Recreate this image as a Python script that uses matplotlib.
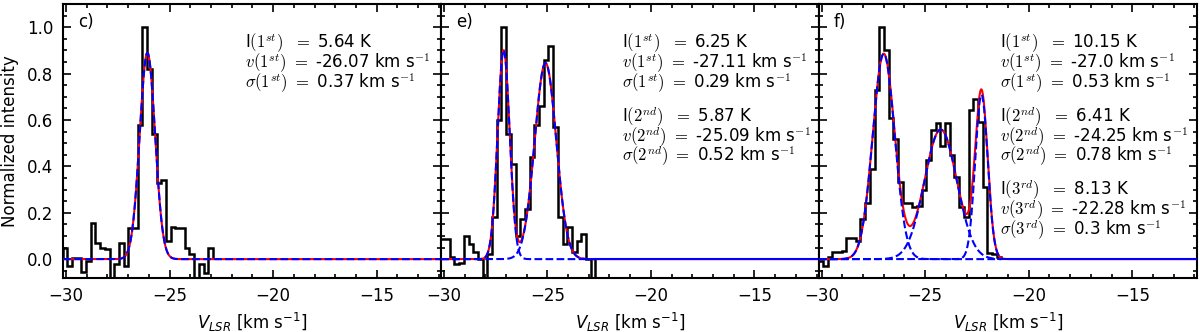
import numpy as np
import matplotlib
matplotlib.use('Agg')
import matplotlib.pyplot as plt
from matplotlib.ticker import MultipleLocator

plt.rcParams['font.family'] = 'DejaVu Sans'
plt.rcParams['mathtext.fontset'] = 'cm'
plt.rcParams['font.size'] = 12

# channel grid shared by the three spectra (km/s)
chan0 = -29.94      # left edge of channel k = 0
dchan = 0.227       # channel width
first_chan = -1     # every spectrum starts at channel k = -1

# normalized spectra, one value per channel
spec_c = [0.046, -0.03, 0.003, 0.006, -0.055, -0.007, 0.156, 0.07, 0.046, 0.042,
          -0.1, -0.02, 0.07, -0.03, 0.136, 0.136, 0.577, 1.0, 0.82, 0.54,
          0.33, 0.34, 0.08, 0.14, 0.136, 0.136, 0.046, 0.024, -0.1, -0.02,
          -0.06, 0.05]
spec_e = [0.085, 0.085, 0.01, -0.02, -0.015, 0.1, 0.067, 0.03, 0.0, -0.1,
          0.02, 0.18, 0.6, 1.0, 0.54, 0.41, 0.10, 0.175, 0.215, 0.44,
          0.58, 0.66, 0.857, 0.92, 0.57, 0.18, 0.065, 0.14, 0.03, 0.08,
          0.11, 0.0, -0.1]
spec_f = [-0.01, -0.03, 0.01, 0.03, 0.03, 0.035, 0.093, 0.093, 0.08, 0.175,
          0.24, 0.39, 0.73, 1.0, 0.90, 0.61, 0.52, 0.333, 0.24, 0.24,
          0.225, 0.228, 0.30, 0.426, 0.558, 0.587, 0.486, 0.587, 0.448, 0.354,
          0.225, 0.18, 0.644, 0.69, 0.59, 0.31, 0.025, 0.02, 0.01]

# gaussian fit results: intensity (K), centroid, dispersion (km/s)
fit_I_c = [5.64]
fit_v_c = [-26.07]
fit_s_c = [0.37]
fit_I_e = [6.25, 5.87]
fit_v_e = [-27.11, -25.09]
fit_s_e = [0.29, 0.52]
fit_I_f = [10.15, 6.41, 8.13]
fit_v_f = [-27.0, -24.25, -22.28]
fit_s_f = [0.53, 0.78, 0.3]

# peak brightness used for the normalization (K)
tpeak = [6.34, 6.94, 11.47]

labels = ['c)', 'e)', 'f)']
ordinals = ['1^{st}', '2^{nd}', '3^{rd}']

panels = [(spec_c, fit_I_c, fit_v_c, fit_s_c),
          (spec_e, fit_I_e, fit_v_e, fit_s_e),
          (spec_f, fit_I_f, fit_v_f, fit_s_f)]

fig = plt.figure(figsize=(12, 3.32), dpi=100)
left, bottom, width, height = 0.05275, 0.1636, 0.31483, 0.8244
xlim = (-30.13, -11.89)
vgrid = np.linspace(xlim[0], xlim[1], 2000)

for i, (spec, I, v, s) in enumerate(panels):
    ax = fig.add_axes([left + i * width, bottom, width, height])
    edges = chan0 + dchan * np.arange(first_chan, first_chan + len(spec) + 1)
    ax.stairs(spec, edges, baseline=0, color='black', lw=1.8, zorder=2)

    comps = [Ii / tpeak[i] * np.exp(-0.5 * ((vgrid - vi) / si) ** 2)
             for Ii, vi, si in zip(I, v, s)]
    ax.plot(vgrid, np.sum(comps, axis=0), color='red', lw=1.5, zorder=3)
    for comp in comps:
        if len(comps) > 1:
            m = vgrid <= edges[-1]
            ax.plot(vgrid[m], comp[m], color='blue', lw=1.5, ls='--', zorder=4)
        else:
            ax.plot(vgrid, comp, color='blue', lw=1.5, ls='--', zorder=4)
    if len(comps) > 1:
        ax.plot([edges[-1], xlim[1]], [0, 0], color='blue', lw=1.5, zorder=5)

    ax.set_xlim(xlim)
    ax.set_ylim(-0.08, 1.1)
    ax.xaxis.set_major_locator(MultipleLocator(5))
    ax.xaxis.set_minor_locator(MultipleLocator(1))
    ax.yaxis.set_major_locator(MultipleLocator(0.2))
    ax.yaxis.set_minor_locator(MultipleLocator(0.05))
    ax.tick_params(which='both', direction='in', top=True, right=True, width=1.2)
    ax.tick_params(which='major', length=5.5, pad=7, labelsize=12)
    ax.tick_params(which='minor', length=3)
    for sp in ax.spines.values():
        sp.set_linewidth(1.5)
    if i == 0:
        ax.set_ylabel('Normalized intensity', fontsize=12, labelpad=6)
    else:
        ax.set_yticklabels([])
    ax.set_xlabel(r'$V_{LSR}$ [km s$^{-1}$]', fontsize=12, labelpad=4,
                  math_fontfamily='dejavusans')

    ax.text(0.04, 0.934, labels[i], transform=ax.transAxes, ha='left', va='center', fontsize=12)

    # fit parameters, one block of three lines per component
    y0 = 0.838
    for j in range(len(I)):
        o = ordinals[j]
        lines = [f'I$({o})$  $=$ {I[j]} K',
                 f'$v({o})$ $=$ {v[j]} km s$^{{-1}}$',
                 f'$\\sigma({o})$ $=$ {s[j]} km s$^{{-1}}$']
        for n, txt in enumerate(lines):
            ax.text(0.48, y0 - n * 0.073, txt, transform=ax.transAxes,
                    ha='left', va='baseline', fontsize=12)
        y0 -= 0.268

fig.savefig('out.png', dpi=100)
